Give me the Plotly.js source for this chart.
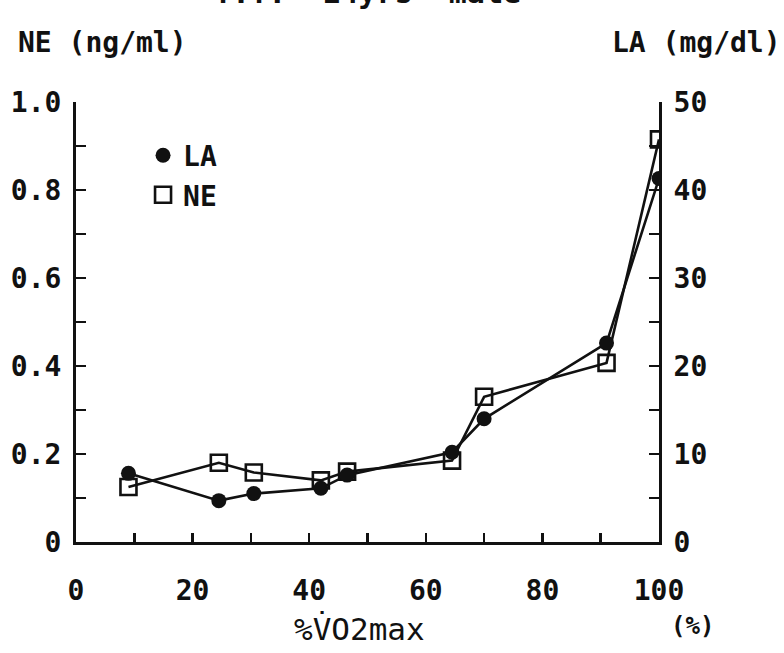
<!DOCTYPE html>
<html>
<head>
<meta charset="utf-8">
<script src="https://cdn.plot.ly/plotly-3.0.1.min.js"></script>
<style>
  html, body { margin: 0; padding: 0; background: #fff; }
  #chart { width: 784px; height: 653px; }
</style>
</head>
<body>
<div id="chart"></div>
<script>
// Exercise intensity (% of VO2max) at each sampling stage
const vo2Pct = [9, 24.5, 30.5, 42, 46.5, 64.5, 70, 91, 100];

// Blood lactate, mg/dl (right axis)
const lactate = [7.8, 4.7, 5.5, 6.1, 7.6, 10.2, 14, 22.6, 41.3];

// Plasma norepinephrine, ng/ml (left axis)
const norepi = [0.125, 0.18, 0.158, 0.14, 0.16, 0.185, 0.33, 0.407, 0.915];

// Tick positions and labels
const xTickVals = [0, 10, 20, 30, 40, 50, 60, 70, 80, 90, 100];
const xTickText = ['0', '', '20', '', '40', '', '60', '', '80', '', '100'];
const neTickVals = [0, 0.1, 0.2, 0.3, 0.4, 0.5, 0.6, 0.7, 0.8, 0.9, 1.0];
const neTickText = ['0', '', '0.2', '', '0.4', '', '0.6', '', '0.8', '', '1.0'];
const laTickVals = [0, 5, 10, 15, 20, 25, 30, 35, 40, 45, 50];
const laTickText = ['0', '', '10', '', '20', '', '30', '', '40', '', '50'];

const FONT = 'DejaVu Sans Mono, Liberation Mono, monospace';
const tickFont = { family: FONT, size: 28, color: '#111', weight: 'bold' };

const traces = [
  // connecting lines
  {
    x: vo2Pct, y: lactate, yaxis: 'y2', mode: 'lines',
    line: { color: '#111', width: 2.6 }, showlegend: false, hoverinfo: 'skip'
  },
  {
    x: vo2Pct, y: norepi, yaxis: 'y', mode: 'lines',
    line: { color: '#111', width: 2.6 }, showlegend: false, hoverinfo: 'skip'
  },
  // markers
  {
    x: vo2Pct, y: norepi, yaxis: 'y', mode: 'markers', name: 'NE',
    marker: { symbol: 'square-open', size: 16, color: '#111', line: { width: 2.6, color: '#111' } }
  },
  {
    x: vo2Pct, y: lactate, yaxis: 'y2', mode: 'markers', name: 'LA',
    marker: { symbol: 'circle', size: 15, color: '#111' }
  }
];

const layout = {
  width: 784,
  height: 653,
  margin: { l: 76, r: 125, t: 102, b: 111 },
  paper_bgcolor: '#fff',
  plot_bgcolor: '#fff',
  showlegend: true,
  legend: {
    x: 0.115, y: 0.935, xanchor: 'left', yanchor: 'top',
    traceorder: 'reversed',
    bgcolor: 'rgba(0,0,0,0)',
    font: { family: FONT, size: 28, color: '#111', weight: 'bold' },
    itemwidth: 30,
    tracegroupgap: 4
  },
  xaxis: {
    range: [0, 100],
    tickmode: 'array', tickvals: xTickVals, ticktext: xTickText,
    ticks: 'inside', ticklen: 9, tickwidth: 2.5, tickcolor: '#111',
    showline: true, linewidth: 3, linecolor: '#111',
    showgrid: false, zeroline: false,
    tickfont: tickFont,
    ticklabelstandoff: 21
  },
  yaxis: {
    range: [0, 1.0],
    tickmode: 'array', tickvals: neTickVals, ticktext: neTickText,
    ticks: 'inside', ticklen: 10, tickwidth: 2.5, tickcolor: '#111',
    showline: true, linewidth: 3, linecolor: '#111',
    showgrid: false, zeroline: false,
    tickfont: tickFont,
    ticklabelstandoff: 6
  },
  yaxis2: {
    range: [0, 50],
    overlaying: 'y', side: 'right',
    tickmode: 'array', tickvals: laTickVals, ticktext: laTickText,
    ticks: 'inside', ticklen: 10, tickwidth: 2.5, tickcolor: '#111',
    showline: true, linewidth: 3, linecolor: '#111',
    showgrid: false, zeroline: false,
    tickfont: tickFont,
    ticklabelstandoff: 6
  },
  annotations: [
    {
      text: 'T.T.  14yrs  male', xref: 'paper', yref: 'paper',
      x: 0.5, y: 1.205, xanchor: 'center', yanchor: 'bottom', showarrow: false,
      font: { family: FONT, size: 30, color: '#111', weight: 'bold' }
    },
    {
      text: 'NE (ng/ml)', xref: 'paper', yref: 'paper',
      x: -0.103, y: 1.136, xanchor: 'left', yanchor: 'middle', showarrow: false,
      font: { family: FONT, size: 28, color: '#111', weight: 'bold' }
    },
    {
      text: 'LA (mg/dl)', xref: 'paper', yref: 'paper',
      x: 1.212, y: 1.136, xanchor: 'right', yanchor: 'middle', showarrow: false,
      font: { family: FONT, size: 28, color: '#111', weight: 'bold' }
    },
    {
      text: '%V\u0307O2max', xref: 'paper', yref: 'paper',
      x: 0.487, y: -0.197, xanchor: 'center', yanchor: 'middle', showarrow: false,
      font: { family: FONT, size: 31, color: '#111' }
    },
    {
      text: '(%)', xref: 'paper', yref: 'paper',
      x: 1.057, y: -0.19, xanchor: 'center', yanchor: 'middle', showarrow: false,
      font: { family: FONT, size: 24, color: '#111', weight: 'bold' }
    }
  ]
};

Plotly.newPlot('chart', traces, layout, { staticPlot: true, displayModeBar: false });
</script>
</body>
</html>
